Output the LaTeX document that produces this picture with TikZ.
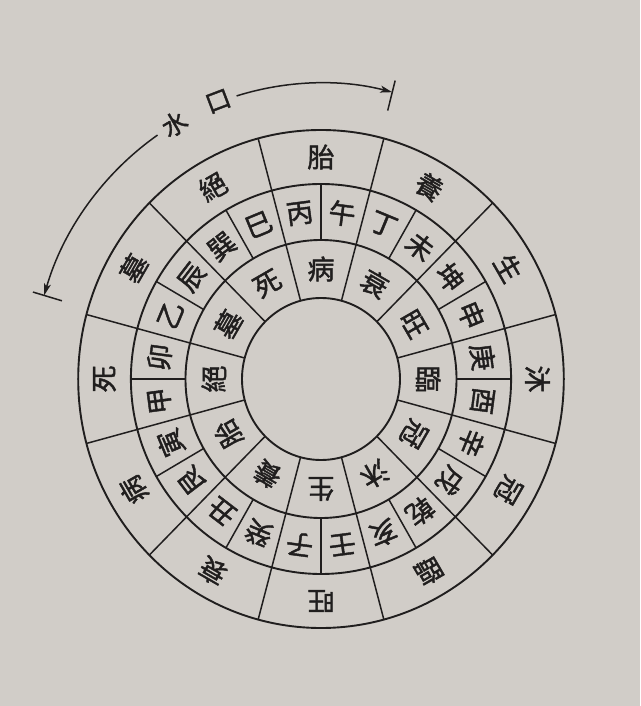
\documentclass[tikz,border=0pt]{standalone}
\usepackage{fontspec}
\newfontfamily\cjk[FakeBold=1.6]{Noto Sans CJK TC}
\usetikzlibrary{arrows.meta}
\definecolor{paper}{RGB}{209,205,200}
\definecolor{ink}{RGB}{32,30,30}
\begin{document}
\begin{tikzpicture}[x=0.975pt,y=1pt,
  ring/.style={draw=ink,line width=1.9pt},
  spoke/.style={draw=ink,line width=1.5pt},
  flow/.style={draw=ink,line width=1.5pt},
  tip/.style={-{Stealth[length=12pt,width=7pt,inset=3pt]}},
  glyph/.style={font=\cjk\fontsize{27}{27}\selectfont,text=ink,inner sep=0pt},
  label/.style={font=\cjk\fontsize{25}{25}\selectfont,text=ink,inner sep=0pt},
]
\fill[paper] (-321pt,-327pt) rectangle (319pt,379pt);
\useasboundingbox (-321pt,-327pt) rectangle (319pt,379pt);

% concentric circles
\draw[ring] (0,0) ellipse [x radius=242.8pt, y radius=249pt];
\draw[ring] (0,0) ellipse [x radius=190.1pt, y radius=195pt];
\draw[ring] (0,0) ellipse [x radius=135.5pt, y radius=139pt];
\draw[ring] (0,0) ellipse [x radius=79pt, y radius=81pt];

% dividers
\foreach \a in {75,105,...,405} \draw[spoke] (\a:195) -- (\a:249);
\foreach \a in {0,15,...,345} \draw[spoke] (\a:139) -- (\a:195);
\foreach \a in {75,105,...,405} \draw[spoke] (\a:81) -- (\a:139);

% outer ring
\foreach \t [count=\i] in {胎,養,生,沐,冠,臨,旺,衰,病,死,墓,絕} {
  \pgfmathsetmacro\ang{90-30*(\i-1)}
  \node[glyph, rotate=\ang-90] (o\i) at (\ang:222) {\t};
}
% twenty-four mountains
\foreach \t [count=\i] in {午,丁,未,坤,申,庚,酉,辛,戌,乾,亥,壬,子,癸,丑,艮,寅,甲,卯,乙,辰,巽,巳,丙} {
  \pgfmathsetmacro\ang{82.5-15*(\i-1)}
  \node[glyph, rotate=\ang-90] (m\i) at (\ang:167) {\t};
}
% inner ring
\foreach \t [count=\i] in {病,衰,旺,臨,冠,沐,生,養,胎,絕,墓,死} {
  \pgfmathsetmacro\ang{90-30*(\i-1)}
  \node[glyph, rotate=\ang-90] (n\i) at (\ang:110) {\t};
}

% water-mouth arc
\coordinate (aL) at (163.6:296);
\coordinate (aR) at (75.7:296);
\coordinate (gL) at (124.5:296);
\coordinate (gR) at (107:296);
\coordinate (bL1) at (163.6:277);
\coordinate (bL2) at (163.6:308);
\coordinate (bR1) at (75.7:277);
\coordinate (bR2) at (75.7:308);
\draw[flow,tip] (gR) arc[start angle=107, end angle=75.7, x radius=288.6pt, y radius=296pt];
\draw[flow,tip] (gL) arc[start angle=124.5, end angle=163.6, x radius=288.6pt, y radius=296pt];
\draw[flow] (bL1) -- (bL2);
\draw[flow] (bR1) -- (bR2);
\node[label, rotate=30.5] (shui) at (120.5:296) {水};
\node[label, rotate=20.8] (kou) at (110.8:297) {口};
\end{tikzpicture}
\end{document}
